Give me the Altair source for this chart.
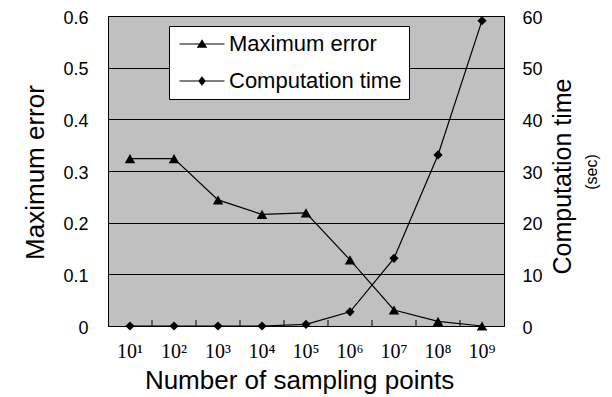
import altair as alt
import pandas as pd

# ---- data ----
x_labels = ["10¹", "10²", "10³", "10⁴", "10⁵", "10⁶", "10⁷", "10⁸", "10⁹"]
max_error = [0.324, 0.324, 0.244, 0.216, 0.219, 0.128, 0.031, 0.009, 0.0]
comp_time = [0.0, 0.0, 0.0, 0.0, 0.3, 2.75, 13.1, 33.1, 59.1]
series_names = ["Maximum error", "Computation time"]
err_ticks = [0, 0.1, 0.2, 0.3, 0.4, 0.5, 0.6]
time_ticks = [0, 10, 20, 30, 40, 50, 60]

df = pd.DataFrame({"n": x_labels, "err": max_error, "time": comp_time})
df_bounds = pd.DataFrame({"n": x_labels[1:]})
df_leg = pd.DataFrame({"series": series_names, "n": x_labels[:2]})
df_sec = pd.DataFrame({"t": ["(sec)"]})

W, H = 396, 310
SANS = "Liberation Sans"

xscale = alt.Scale(type="band", paddingInner=0, paddingOuter=0, domain=x_labels)
xaxis = alt.Axis(
    title="Number of sampling points", labelAngle=0, ticks=False, tickSize=0,
    domain=False, labelFont="Liberation Serif", labelFontSize=20, labelColor="black",
    labelPadding=15, labelBaseline="top",
    titleFont=SANS, titleFontSize=26, titleFontWeight="normal", titleColor="black",
    titleX=191, titleY=62, titleBaseline="alphabetic", titleAlign="center",
)
X = alt.X("n:N", scale=xscale, sort=x_labels, axis=xaxis)

yerr = alt.Y(
    "err:Q",
    scale=alt.Scale(domain=[0, 0.6], nice=False, zero=True),
    axis=alt.Axis(
        orient="left", values=err_ticks,
        labelExpr="datum.value == 0 ? '0' : format(datum.value, '.1f')",
        grid=True, gridColor="black", gridOpacity=1, gridWidth=1,
        ticks=False, tickSize=0, domain=False,
        labelPadding=20, labelFont=SANS, labelFontSize=18, labelColor="black",
        labelOffset=2,
        title="Maximum error", titleFont=SANS, titleFontSize=26,
        titleFontWeight="normal", titleColor="black", titleAngle=270,
        titleX=-65, titleY=156, titleAlign="center", titleBaseline="alphabetic",
    ),
)
ytime = alt.Y(
    "time:Q",
    scale=alt.Scale(domain=[0, 60], nice=False, zero=True),
    axis=alt.Axis(
        orient="right", values=time_ticks, format="d",
        grid=False, ticks=False, tickSize=0, domain=False,
        labelPadding=18, labelFont=SANS, labelFontSize=18, labelColor="black",
        labelOffset=2,
        title="Computation time", titleFont=SANS, titleFontSize=25,
        titleFontWeight="normal", titleColor="black", titleAngle=270,
        titleX=66, titleY=160, titleAlign="center", titleBaseline="alphabetic",
    ),
)

base = alt.Chart(df)

err_line = base.mark_line(color="black", strokeWidth=1.2).encode(x=X, y=yerr)
err_pts = base.mark_point(shape="triangle-up", filled=True, color="black",
                          size=110, opacity=1).encode(x=X, y=yerr)

# inward tick marks at category boundaries
bounds = alt.Chart(df_bounds).mark_rule(color="black", strokeWidth=1).encode(
    x=alt.X("n:N", scale=xscale, sort=x_labels, axis=xaxis, bandPosition=0),
    y=alt.value(H - 6), y2=alt.value(H),
)

# legend symbols: a short line with the series marker on it
tri_path = "M-1,-0.07L5,-0.07L5,0.07L-1,0.07ZM2,-0.65L2.7,0.5L1.3,0.5Z"
dia_path = "M-1,-0.07L5,-0.07L5,0.07L-1,0.07ZM2,-0.62L2.5,0L2,0.62L1.5,0Z"

legend_layer = alt.Chart(df_leg).mark_point(
    filled=True, color="black", size=225, opacity=1, clip=True,
).encode(
    x=X,
    y=alt.value(-300),
    shape=alt.Shape(
        "series:N",
        scale=alt.Scale(domain=series_names, range=[tri_path, dia_path]),
        legend=alt.Legend(
            title=None, orient="none", legendX=61, legendY=10,
            fillColor="white", strokeColor="black", padding=7,
            labelFont=SANS, labelFontSize=22, labelColor="black",
            labelOffset=31, labelLimit=400, rowPadding=15, symbolSize=225,
            symbolFillColor="black", symbolOpacity=1, cornerRadius=0,
        ),
    ),
)

sec_text = alt.Chart(df_sec).mark_text(
    angle=270, font=SANS, fontSize=16, color="black",
    baseline="middle", align="center",
).encode(text="t:N", x=alt.value(W + 88), y=alt.value(156))

time_line = base.mark_line(color="black", strokeWidth=1.2).encode(x=X, y=ytime)
time_pts = base.mark_point(shape="diamond", filled=True, color="black",
                           size=85, opacity=1).encode(x=X, y=ytime)

left = alt.layer(err_line, err_pts, bounds, legend_layer, sec_text)
right = alt.layer(time_line, time_pts)

chart = alt.layer(left, right).resolve_scale(y="independent").properties(
    width=W, height=H,
    autosize=alt.AutoSizeParams(type="none"),
    padding={"left": 100, "top": 8, "right": 100, "bottom": 71},
    background="white",
).configure_view(fill="#C0C0C0", stroke="black", strokeWidth=1)

chart.save("out.html", embed_options={"renderer": "svg", "actions": False})
